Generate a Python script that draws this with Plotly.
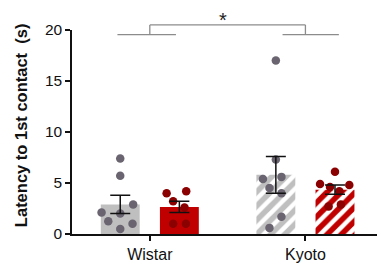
import plotly.graph_objects as go

# ---- data ----
categories = ["Wistar", "Kyoto"]
y_ticks = [0, 5, 10, 15, 20]

# group means and SEM (two conditions per strain)
mean_grey = [2.9, 5.8]
sem_grey = [0.9, 1.8]
mean_red = [2.65, 4.35]
sem_red = [0.55, 0.45]

# individual points (values) and horizontal jitter
wistar_grey_pts = [7.4, 5.7, 2.9, 2.1, 2.0, 1.25, 1.0, 0.5]
wistar_grey_jit = [0, 0, 0.083, -0.12, 0, -0.077, 0.079, 0]
wistar_red_pts = [4.0, 4.2, 3.2, 2.6, 1.0, 1.0]
wistar_red_jit = [-0.082, 0.044, -0.04, 0.033, -0.04, 0.042]
kyoto_grey_pts = [17.0, 7.3, 5.4, 5.6, 4.5, 4.0, 1.7, 0.6]
kyoto_grey_jit = [0, 0, -0.083, 0.036, -0.041, 0.036, 0.036, -0.041]
kyoto_red_pts = [6.1, 4.9, 4.6, 4.8, 4.2, 2.7, 2.9]
kyoto_red_jit = [0, -0.096, -0.032, 0.092, 0.028, -0.041, 0.038]

# ---- styling ----
GREY_BAR = "#bfbfbf"
GREY_DOT = "#6a6470"
RED_BAR = "#c00000"
RED_DOT = "#8b0000"
OFF = 0.19
BW = 0.25
FONT = "Liberation Sans, Arial, sans-serif"

xc = list(range(len(categories)))
fig = go.Figure()

# bars (Wistar solid, Kyoto hatched)
for i, cat in enumerate(categories):
    hatched = cat == "Kyoto"
    for col, means, sign in [(GREY_BAR, mean_grey, -1), (RED_BAR, mean_red, 1)]:
        marker = dict(color=col, line=dict(width=0))
        if hatched:
            marker["pattern"] = dict(shape="/", fgcolor="white", bgcolor=col,
                                     fillmode="replace", size=10, solidity=0.45)
        fig.add_trace(go.Bar(x=[xc[i] + sign * OFF], y=[means[i]], width=BW,
                             marker=marker, showlegend=False))

# points
groups = [
    (0, -1, wistar_grey_pts, wistar_grey_jit, GREY_DOT),
    (0, 1, wistar_red_pts, wistar_red_jit, RED_DOT),
    (1, -1, kyoto_grey_pts, kyoto_grey_jit, GREY_DOT),
    (1, 1, kyoto_red_pts, kyoto_red_jit, RED_DOT),
]
for ci, sign, pts, jit, col in groups:
    fig.add_trace(go.Scatter(
        x=[xc[ci] + sign * OFF + j for j in jit], y=pts, mode="markers",
        marker=dict(color=col, size=8.5, line=dict(width=0)),
        showlegend=False, cliponaxis=False))

# error bars on top
for means, sems, sign in [(mean_grey, sem_grey, -1), (mean_red, sem_red, 1)]:
    fig.add_trace(go.Scatter(
        x=[c + sign * OFF for c in xc], y=means, mode="markers",
        marker=dict(size=0.1, color="rgba(0,0,0,0)"),
        error_y=dict(type="data", array=sems, visible=True, color="#111111",
                     thickness=1.5, width=10),
        showlegend=False))

# significance bracket (y in paper units = value / 20)
YMAX = 20.0
br_col = "#8c8c8c"
def seg(x0, x1, v0, v1):
    fig.add_shape(type="line", xref="x", yref="paper", x0=x0, x1=x1,
                  y0=v0 / YMAX, y1=v1 / YMAX, line=dict(color=br_col, width=1.3))
seg(-0.208, 0.168, 19.55, 19.55)
seg(0.853, 1.215, 19.55, 19.55)
seg(0, 0, 19.55, 20.5)
seg(1, 1, 19.55, 20.5)
seg(0, 1, 20.5, 20.5)
fig.add_annotation(x=0.47, xref="x", y=21.4 / YMAX, yref="paper", text="*",
                   showarrow=False, font=dict(family=FONT, size=20, color="#222"),
                   yanchor="middle", xanchor="center", yshift=-4)

# y-axis title
fig.add_annotation(x=-0.167, xref="paper", y=0.534, yref="paper",
                   text="<b>Latency to 1st contact  (s)</b>", textangle=-90,
                   showarrow=False, xanchor="center", yanchor="middle",
                   font=dict(family=FONT, size=16.5, color="#111"))

fig.update_layout(
    width=380, height=266,
    margin=dict(l=72, r=3, t=30, b=28),
    plot_bgcolor="white", paper_bgcolor="white",
    barmode="overlay",
    font=dict(family=FONT, color="#111"),
)
fig.update_xaxes(range=[-0.5, 1.46], tickvals=xc, ticktext=categories,
                 showgrid=False, zeroline=False, showline=True,
                 linecolor="#111", linewidth=1.5, ticks="outside", ticklen=5,
                 tickwidth=1.5, tickcolor="#111", tickfont=dict(size=16))
fig.update_yaxes(range=[0, YMAX], tickvals=y_ticks, showgrid=False,
                 zeroline=False, showline=True, linecolor="#111", linewidth=1.5,
                 ticks="outside", ticklen=5, tickwidth=1.5, tickcolor="#111",
                 tickfont=dict(size=15.5))

fig.write_html("out.html", config={"displayModeBar": False},
               post_script="document.body.style.margin='0';document.body.style.padding='0';")
